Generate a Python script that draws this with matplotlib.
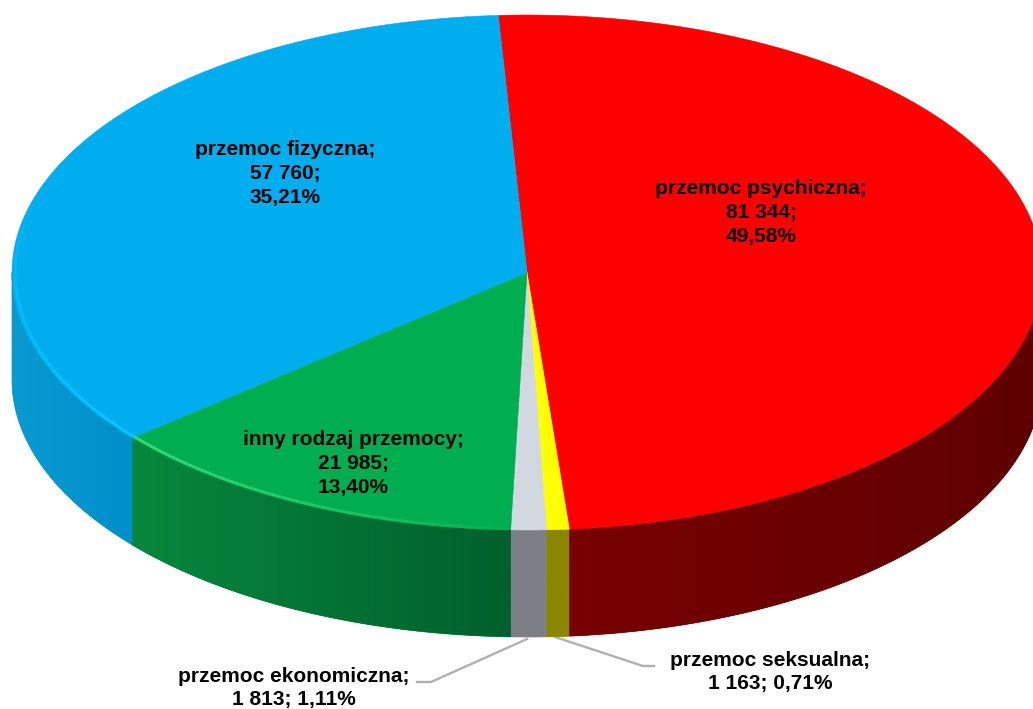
import numpy as np
import matplotlib
matplotlib.use("Agg")
import matplotlib.pyplot as plt
from matplotlib.patches import Polygon

# dane
nazwy = ["przemoc psychiczna", "przemoc seksualna", "przemoc ekonomiczna",
         "inny rodzaj przemocy", "przemoc fizyczna"]
wartosci = [81344, 1163, 1813, 21985, 57760]
etykiety = ["przemoc psychiczna;\n81 344;\n49,58%",
            "przemoc seksualna;\n1 163; 0,71%",
            "przemoc ekonomiczna;\n1 813; 1,11%",
            "inny rodzaj przemocy;\n21 985;\n13,40%",
            "przemoc fizyczna;\n57 760;\n35,21%"]
kolory_top = ["#FF0000", "#FFFF00", "#D2D8E0", "#00AD4F", "#00AEEF"]
# kolor boku: lewy i prawy koniec paska na ekranie
kolory_bok = [("#780000", "#5E0000"), ("#8A8600", "#8A8600"), ("#7C7F86", "#7C7F86"),
              ("#07873C", "#00602D"), ("#0A9AD2", "#008FC8")]
pozycje = [(761, 212.5), (770, 672), (294, 688), (353, 463.5), (285, 173.5)]

# geometria elipsy w pikselach
cx, cy = 527, 272.5
rx, ry = 515, 257.5
glebokosc = 107
start = -3.2


def punkt(kat, r=1.0):
    t = np.radians(kat)
    return cx + r*rx*np.sin(t), cy - r*ry*np.cos(t)


def mieszaj(a, b, f):
    a = np.array(matplotlib.colors.to_rgb(a))
    b = np.array(matplotlib.colors.to_rgb(b))
    return a + (b - a)*f


fig = plt.figure(figsize=(10.33, 7.09), dpi=100)
ax = fig.add_axes([0, 0, 1, 1])

udzialy = np.array(wartosci)/sum(wartosci)*360
konce = start + np.cumsum(udzialy)
poczatki = konce - udzialy

# bok tortu - gradient przyciety do ksztaltu
for a, b, kol in zip(poczatki, konce, kolory_bok):
    a2, b2 = max(a, 90), min(b, 270)
    if b2 <= a2:
        continue
    katy = np.linspace(a2, b2, 120)
    xs, ys = punkt(katy)
    obrys = np.c_[np.r_[xs, xs[::-1]], np.r_[ys+glebokosc, ys[::-1]]]
    # podklad, zeby nie bylo jasnych szczelin miedzy paskami
    ax.add_patch(Polygon(obrys, closed=True, fc=mieszaj(kol[0], kol[1], 0.5),
                         ec=mieszaj(kol[0], kol[1], 0.5), lw=0.5, zorder=1.5))
    gradient = np.array([[mieszaj(kol[0], kol[1], f) for f in np.linspace(0, 1, 64)]])
    im = ax.imshow(gradient, extent=[xs.min(), xs.max(), 709, 0], aspect="auto", zorder=2,
                   interpolation="bilinear")
    ksztalt = Polygon(obrys, closed=True, transform=ax.transData, fc="none", ec="none")
    ax.add_patch(ksztalt)
    im.set_clip_path(ksztalt)

# wierzch tortu
for a, b, kol in zip(poczatki, konce, kolory_top):
    katy = np.linspace(a, b, 200)
    xs, ys = punkt(katy)
    ax.fill(np.r_[cx, xs], np.r_[cy, ys], color=kol, lw=0.4, zorder=3)

# jasna krawedz na przodzie, zanika w strone konca
i_g, i_f = 3, 4
for zakres, jasny, baza, rosnie in [((poczatki[i_g], konce[i_g]), "#35DC7C", "#00AD4F", True),
                                    ((poczatki[i_f], poczatki[i_f]+58), "#0CC4FF", "#00AEEF", False)]:
    katy = np.linspace(zakres[0], zakres[1], 80)
    xs, ys = punkt(katy, 0.994)
    sila = np.linspace(0, 1, 80) if rosnie else np.linspace(1, 0, 80)
    for i in range(len(katy)-1):
        ax.plot(xs[i:i+2], ys[i:i+2], color=mieszaj(baza, jasny, sila[i]**0.7),
                lw=2, solid_capstyle="butt", zorder=4)

# linie odniesienia
ax.plot([417, 431, 527], [682, 682, 639], color="#B0B0B0", lw=1.7, zorder=1)
ax.plot([555, 643, 654], [637, 666, 666], color="#B0B0B0", lw=1.7, zorder=1)

# opisy
for tekst, (x, y) in zip(etykiety, pozycje):
    ax.text(x, y, tekst, ha="center", va="center", fontsize=15, fontweight="bold",
            family="Liberation Sans", color="black", linespacing=1.32, zorder=5)

ax.set_xlim(0, 1033)
ax.set_ylim(709, 0)
ax.axis("off")

fig.savefig("out.png", dpi=100)
